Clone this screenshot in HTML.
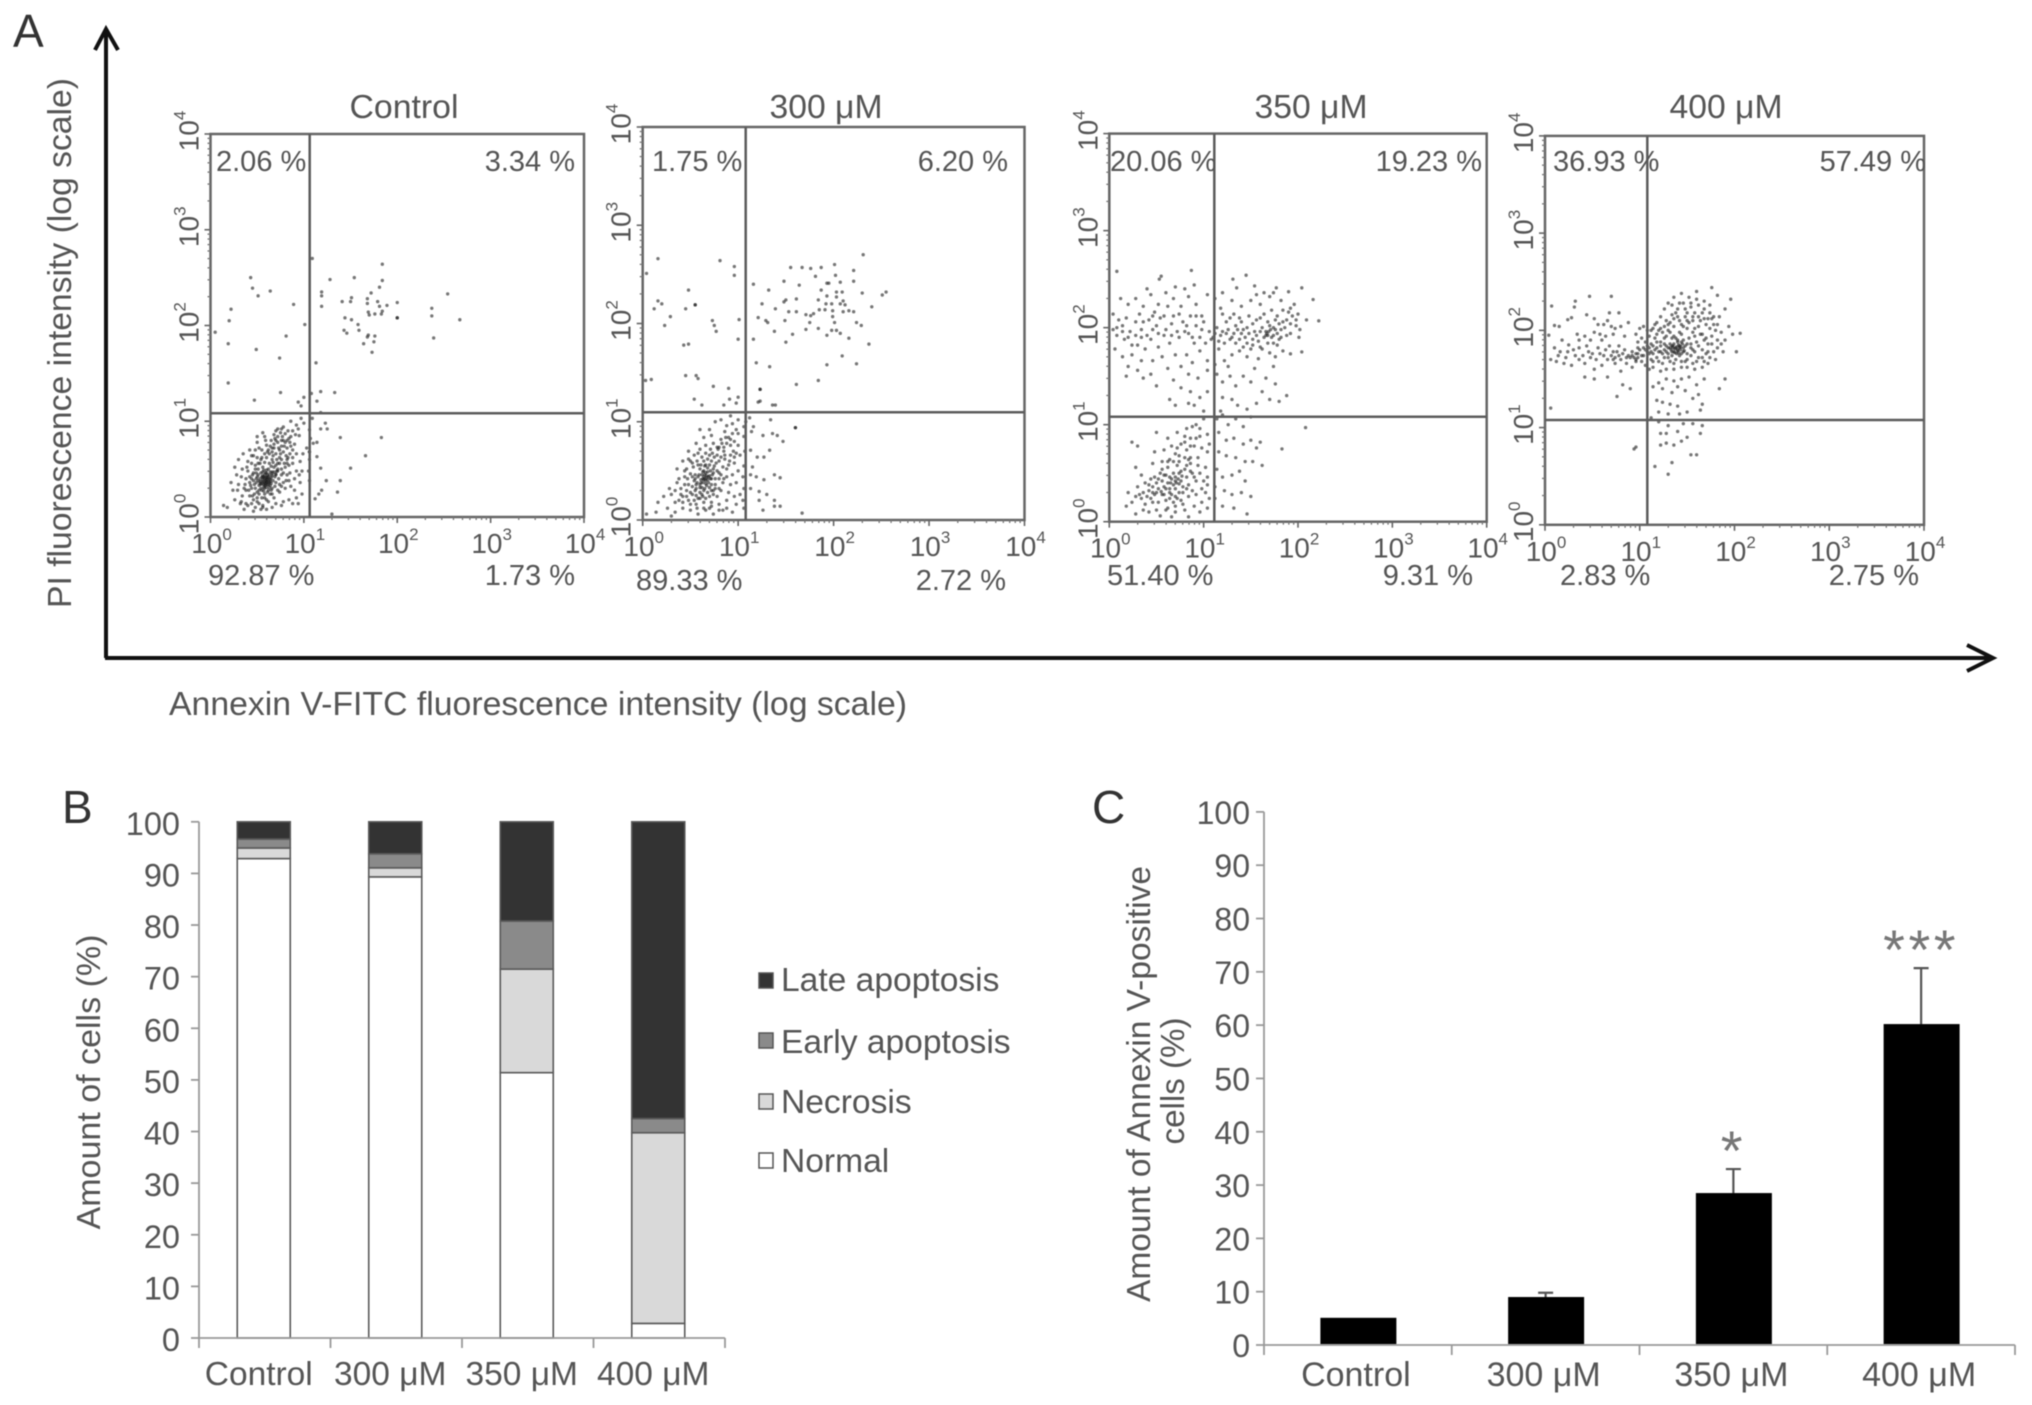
<!DOCTYPE html>
<html lang="en">
<head>
<meta charset="utf-8">
<title>Annexin V / PI flow cytometry apoptosis figure</title>
<style>
html,body{margin:0;padding:0;background:#fff;}
svg{display:block;width:2032px;height:1405px;filter:blur(0.55px);}
text{font-family:"Liberation Sans",sans-serif;fill:#555;}
.t29{font-size:29px;}
.t33{font-size:33px;}
.t34{font-size:33.6px;}
.letter{font-size:46px;fill:#333;}
</style>
</head>
<body>
<svg id="figure" xmlns="http://www.w3.org/2000/svg" width="2032" height="1405" viewBox="0 0 2032 1405">
  <rect x="0" y="0" width="2032" height="1405" fill="#fff"/>

  <g id="panelA">
    <text class="letter" x="13" y="47">A</text>
    <g fill="none" stroke="#111" stroke-width="4">
      <path d="M106 658 V30 M95 50 L106 29 L118 50"/>
      <path d="M105 658 H1992 M1967 645 L1993 658 L1967 671"/>
    </g>
    <text class="t33" transform="translate(71 343) rotate(-90)" text-anchor="middle" textLength="530" lengthAdjust="spacingAndGlyphs">PI fluorescence intensity (log scale)</text>
    <text class="t33" x="169" y="715" textLength="738" lengthAdjust="spacingAndGlyphs">Annexin V-FITC fluorescence intensity (log scale)</text>

    <text class="t33" x="404" y="118" text-anchor="middle" textLength="109" lengthAdjust="spacingAndGlyphs">Control</text>
    <text class="t33" x="826" y="118" text-anchor="middle" textLength="113" lengthAdjust="spacingAndGlyphs">300 μM</text>
    <text class="t33" x="1311" y="118" text-anchor="middle" textLength="113" lengthAdjust="spacingAndGlyphs">350 μM</text>
    <text class="t33" x="1726" y="118" text-anchor="middle" textLength="113" lengthAdjust="spacingAndGlyphs">400 μM</text>

    <g id="flowPlots"></g>

    <g>
      <text class="t29" x="216" y="171">2.06 %</text>
      <text class="t29" x="575" y="171" text-anchor="end">3.34 %</text>
      <text class="t29" x="208" y="585">92.87 %</text>
      <text class="t29" x="575" y="585" text-anchor="end">1.73 %</text>

      <text class="t29" x="652" y="171">1.75 %</text>
      <text class="t29" x="1008" y="171" text-anchor="end">6.20 %</text>
      <text class="t29" x="636" y="590">89.33 %</text>
      <text class="t29" x="1006" y="590" text-anchor="end">2.72 %</text>

      <text class="t29" x="1110" y="171">20.06 %</text>
      <text class="t29" x="1482" y="171" text-anchor="end">19.23 %</text>
      <text class="t29" x="1107" y="585">51.40 %</text>
      <text class="t29" x="1473" y="585" text-anchor="end">9.31 %</text>

      <text class="t29" x="1553" y="171">36.93 %</text>
      <text class="t29" x="1926" y="171" text-anchor="end">57.49 %</text>
      <text class="t29" x="1560" y="585">2.83 %</text>
      <text class="t29" x="1919" y="585" text-anchor="end">2.75 %</text>
    </g>
  </g>

  <g id="panelB">
    <text class="letter" x="62" y="823">B</text>
    <text class="t33" transform="translate(100 1082) rotate(-90)" text-anchor="middle" textLength="295" lengthAdjust="spacingAndGlyphs">Amount of cells (%)</text>
    <g id="stackedChart"></g>
    <g>
      <g>
        <rect x="759" y="973" width="14" height="15" fill="#333" stroke="#555" stroke-width="1.5"/>
        <text class="t34" x="781" y="991">Late apoptosis</text>
      </g>
      <g>
        <rect x="759" y="1033" width="14" height="15" fill="#8a8a8a" stroke="#555" stroke-width="1.5"/>
        <text class="t34" x="781" y="1053">Early apoptosis</text>
      </g>
      <g>
        <rect x="759" y="1094" width="14" height="15" fill="#d9d9d9" stroke="#555" stroke-width="1.5"/>
        <text class="t34" x="781" y="1113">Necrosis</text>
      </g>
      <g>
        <rect x="759" y="1153" width="14" height="15" fill="#fff" stroke="#555" stroke-width="1.5"/>
        <text class="t34" x="781" y="1172">Normal</text>
      </g>
    </g>
  </g>

  <g id="panelC">
    <text class="letter" x="1092" y="823">C</text>
    <text class="t33" transform="translate(1150 1084) rotate(-90)" text-anchor="middle" textLength="436" lengthAdjust="spacingAndGlyphs">Amount of Annexin V-positive</text>
    <text class="t33" transform="translate(1184 1081) rotate(-90)" text-anchor="middle" textLength="127" lengthAdjust="spacingAndGlyphs">cells (%)</text>
    <g id="barChart"></g>
  </g>
</svg>

<script>
/* ---------- Panel A: log10 fluorescence readings, listed as x,y,x,y ... ---------- */
const logTickExponents = ['0','1','2','3','4'];

const scatterControl = [
.43,2.50,.45,2.39,.51,2.31,.64,2.36,.89,2.22,.22,2.17,.20,2.05,.05,1.93,.19,1.81,.49,1.75,.81,1.89,.74,1.66,1.01,2.01,.19,1.40,.47,1.22,.75,1.30,.94,1.20,.97,1.16,1.00,1.25,1.13,1.61,1.18,1.31,1.08,1.29,1.14,1.21,1.33,1.30,
1.09,2.70,1.28,2.48,1.54,2.50,1.19,2.35,1.19,2.31,1.19,2.20,1.84,2.64,1.84,2.47,1.81,2.40,1.72,2.34,1.41,2.25,1.50,2.25,1.51,2.29,1.68,2.28,1.68,2.23,1.79,2.25,1.81,2.20,1.89,2.21,2.00,2.24,1.69,2.14,1.70,2.11,1.76,2.12,1.83,2.12,1.84,2.15,2.00,2.08,2.00,2.08,1.44,2.08,1.51,2.06,1.58,2.01,1.59,1.95,1.43,1.95,1.46,1.92,1.69,1.90,1.68,1.88,1.76,1.89,1.75,1.83,1.64,1.81,1.73,1.72,2.37,2.18,2.37,2.10,2.54,2.33,2.67,2.06,2.39,1.87,
1.18,.92,1.25,.92,1.39,.83,1.83,.83,1.66,.64,1.50,.51,1.18,.51,1.39,.38,1.24,.38,1.36,.26,1.19,.28,1.16,.24,1.12,.19,1.30,.03,1.14,.63,1.10,.77,1.14,.78,1.06,.91,1.06,.68,1.06,.68,1.23,.98,1.18,1.09,1.09,1.03,1.07,.82,1.06,.60,1.05,.48,1.06,.38,
.59,.38,.60,.36,.58,.40,.62,.37,.57,.34,.61,.41,.55,.37,.63,.44,.60,.31,.56,.43,.65,.41,.53,.40,.58,.30,.66,.47,.52,.33,.62,.50,.54,.46,.68,.52,.50,.42,.49,.36,.64,.33,.59,.46,.67,.38,.55,.28,.61,.26,.48,.30,.70,.45,.46,.38,.72,.56,.56,.52,.63,.56,.51,.50,.74,.62,.66,.60,.58,.57,.45,.44,.69,.32,.52,.24,.64,.24,.47,.24,.73,.40,.76,.50,.43,.33,.60,.62,.70,.66,.78,.68,.59,.35,.60,.39,.57,.37,.61,.34,.56,.39,.63,.40,.60,.42,.58,.44,.54,.34,.64,.37,
.80,.87,.75,.88,.84,.82,.78,.94,.70,.90,.88,.90,.90,.76,.82,.72,.72,.78,.65,.80,.92,.96,.95,.85,.60,.75,.86,1.00,.97,1.03,.55,.70,.50,.62,.44,.56,.40,.48,.38,.40,.36,.30,.34,.22,.30,.34,.28,.44,.26,.52,.30,.60,.35,.66,.42,.70,.50,.78,.58,.84,.68,.86,.76,.80,.86,.74,.92,.66,.96,.58,.98,.48,.88,.62,.84,.54,.82,.44,.90,.40,.96,.36,.86,.32,.80,.30,.74,.26,.68,.20,.62,.16,.56,.12,.50,.16,.44,.14,.38,.14,.32,.14,.26,.18,.24,.28,.22,.36,.14,.12,.18,.10,.36,.08,.46,.06,.56,.10,.66,.10,.76,.12,.84,.18,.92,.20,.98,.24,.90,.28,.78,.46,.82,.60,.76,.74,.70,.80,.62,.70,.72,.92,.56,.88,.50,.84,.70,.44,.74,.34,.40,.58,.34,.50,.44,.64,.48,.70,.54,.60,.48,.54,.72,.48,.66,.30,.78,.36,.84,.38,.58,.20,.46,.18,.52,.14,.42,.22,.66,.68,.76,.60,.80,.52,.68,.72,1.00,.98,.94,.92,1.03,.72,.99,.66,
.60,.37,.59,.41,.62,.34,.57,.42,.64,.39,.55,.35,.61,.44,.58,.33,.66,.43,.53,.37,.63,.31,.56,.47,.68,.47,.51,.38,.60,.49,.65,.53,.54,.30,.49,.46,.70,.54,.47,.34,.62,.28,.57,.27,.72,.50,.74,.56,.44,.40,.67,.57,.75,.66,.79,.74,.82,.80,.77,.84,.73,.72,.68,.76,.63,.66,.58,.66,.53,.56,.48,.50,.42,.42,.37,.34,.41,.28,.45,.22,.50,.20,.55,.20,.60,.18,.66,.24,.72,.28,.76,.32,.81,.38,.85,.46,.88,.56,.85,.66,.81,.64,.92,.48,.95,.44,.86,.84,.91,.86,.83,.90,.76,.92,.69,.82,.64,.74,.59,.80,.52,.72,.46,.64,.39,.52,.33,.42,.29,.28,.33,.16,.40,.12,.48,.10,.54,.08,.60,.08,.70,.14,.78,.16,.88,.14,.94,.14,
.58,.36,.61,.39,.59,.33,.56,.41,.63,.36,.55,.42,.62,.42,.60,.46,.57,.31,.65,.35,.53,.35,.66,.45,.51,.44,.64,.47,.57,.49,.69,.42,.71,.48,.49,.40,.52,.28,.58,.24,.65,.28,.70,.36,.76,.44,.79,.56,.83,.62,.78,.80,.72,.84,.66,.72,.61,.68,.55,.62,.51,.56,.46,.46,.42,.36,.38,.28,.44,.30,.50,.26,.74,.70,.80,.78,.85,.78,.88,.70,.82,.56,.71,.60,.67,.64
];

const scatter300 = [
.16,2.66,.81,2.64,.96,2.58,.96,2.49,.04,2.51,.48,2.34,.16,2.23,.20,2.20,.12,2.15,.45,2.15,.55,2.19,.55,2.19,.29,2.07,.23,1.98,.73,2.03,.75,1.98,.77,1.92,1.01,2.04,.43,1.78,.48,1.79,1.00,1.84,1.16,1.84,.45,1.47,.56,1.47,.58,1.44,.09,1.43,.03,1.42,.74,1.36,.90,1.34,.54,1.23,.62,1.17,.85,1.17,.91,1.23,.98,1.19,1.00,1.25,1.23,1.33,1.23,1.33,1.21,1.20,1.23,1.21,1.36,1.17,1.39,1.17,
1.61,1.38,1.84,1.42,1.93,1.58,2.24,1.59,2.09,1.67,2.37,1.79,1.19,1.60,1.33,1.56,1.50,1.81,1.57,1.89,1.38,1.92,1.29,2.03,1.31,2.01,1.21,2.06,1.49,2.03,1.39,2.15,1.25,2.20,1.16,2.40,1.32,2.34,1.48,2.43,1.55,2.57,1.67,2.57,1.76,2.56,1.87,2.57,2.01,2.60,2.31,2.70,2.21,2.54,2.02,2.49,1.81,2.48,1.64,2.39,1.93,2.41,1.95,2.41,2.07,2.42,2.21,2.43,1.87,2.34,2.03,2.32,2.09,2.32,2.30,2.31,2.51,2.29,2.55,2.32,1.48,2.22,1.50,2.24,1.61,2.25,1.84,2.24,1.93,2.28,2.03,2.27,1.92,2.20,1.98,2.20,2.07,2.20,2.10,2.23,2.12,2.19,2.40,2.17,1.53,2.12,1.61,2.12,1.71,2.09,1.76,2.08,1.79,2.10,1.85,2.14,1.91,2.14,1.99,2.13,2.10,2.12,2.16,2.13,2.21,2.12,1.99,2.07,2.01,2.01,1.75,2.01,2.24,2.01,2.29,1.98,1.71,1.94,1.84,1.95,1.98,1.93,2.03,1.93,1.93,1.88,2.07,1.90,2.16,1.85,
1.34,1.02,1.60,.94,1.60,.94,1.16,.95,1.26,.86,1.36,.88,1.41,.86,1.47,.80,1.13,.71,1.33,.71,1.27,.64,1.20,.64,1.15,.54,1.13,.46,1.19,.44,1.27,.41,1.38,.46,1.44,.43,1.13,.32,1.22,.29,1.30,.26,1.22,.20,1.38,.20,1.38,.14,1.44,.14,1.26,.10,1.67,.07,1.06,.95,1.06,.85,1.07,.70,1.06,.55,1.05,.44,1.06,.32,1.05,.20,1.06,.12,1.08,1.00,1.12,1.04,1.14,.90,
.65,.42,.66,.40,.64,.44,.67,.45,.63,.38,.68,.41,.62,.46,.66,.48,.69,.38,.61,.41,.70,.45,.60,.36,.64,.50,.71,.50,.58,.44,.67,.35,.62,.33,.72,.42,.57,.38,.68,.53,.60,.52,.74,.48,.56,.32,.64,.30,.70,.33,.55,.46,.66,.56,.75,.55,.54,.40,.60,.28,.68,.28,.52,.34,.72,.60,.58,.56,.78,.50,.76,.36,.50,.28,.56,.25,.63,.24,.70,.24,.48,.36,.64,.60,.80,.60,.78,.66,.70,.66,
.94,.88,.90,.84,.86,.90,.98,.92,.82,.82,.92,.76,.96,.80,.85,.74,.78,.74,.74,.78,.88,.96,.94,.98,1.00,.88,1.00,.76,1.02,.66,.98,.68,.92,.66,.86,.62,.84,.54,.90,.56,.96,.58,1.00,.50,.94,.46,.88,.44,.84,.38,.92,.36,.98,.38,.90,.28,.82,.30,.96,.24,.88,.20,.78,.24,.72,.18,.64,.18,.56,.16,.48,.20,.42,.24,.40,.32,.44,.44,.38,.42,.46,.52,.50,.60,.54,.66,.60,.72,.66,.76,.72,.86,.64,.84,.56,.78,.48,.70,.42,.60,.36,.52,.34,.18,.30,.26,.28,.32,.26,.12,.34,.08,.42,.12,.50,.10,.58,.06,.66,.10,.74,.06,.84,.10,.94,.08,.22,.24,.16,.18,.14,.08,.04,.06,.30,.04,.80,.16,.70,.12,.60,.22,.76,.32,.98,.16,1.02,.26,.52,.44,.80,.42,.74,.30,.54,.20,.70,.92,.60,.92,.82,1.02,.76,1.00,.92,1.06,1.00,1.02,
.64,.41,.67,.43,.65,.46,.63,.42,.69,.44,.61,.38,.66,.37,.71,.42,.59,.46,.68,.49,.63,.49,.73,.46,.60,.33,.65,.32,.72,.36,.56,.36,.55,.42,.74,.52,.70,.56,.65,.55,.61,.56,.77,.58,.82,.64,.85,.70,.88,.78,.83,.78,.79,.72,.75,.64,.71,.72,.66,.68,.62,.64,.57,.60,.53,.54,.50,.47,.47,.42,.44,.36,.46,.30,.52,.26,.58,.22,.66,.22,.74,.26,.80,.32,.85,.42,.88,.52,.91,.60,.95,.70,.92,.82,.87,.84,.96,.64,.80,.48,.76,.42,.46,.24,.38,.20,.42,.18,.50,.16,.57,.12,.64,.12,.72,.14,.80,.10,.88,.12,.40,.26,.34,.30,.36,.38,.58,.68,.52,.58,.48,.62,.44,.50,.68,.62,.73,.68,.80,.74,.86,.66,.82,.46,.72,.30,.62,.26,.55,.30
];

const scatter350 = [
.08,2.58,.55,2.53,.53,2.50,.87,2.59,1.31,2.50,1.45,2.54,1.35,2.41,1.54,2.43,1.77,2.41,1.90,2.37,2.04,2.41,2.16,2.29,2.09,2.08,2.22,2.07,2.01,1.90,2.04,1.75,1.92,1.73,
.04,2.14,.10,2.08,.14,2.02,.08,1.92,.16,1.88,.06,1.78,.14,1.70,.20,1.60,.18,1.50,.30,1.56,.36,1.48,.44,1.52,.50,1.40,.24,1.72,.30,1.82,.38,1.78,.44,1.88,.52,1.80,.58,1.92,.64,1.84,.70,1.72,.76,1.60,.84,1.52,.22,1.96,.28,2.06,.34,1.98,.42,2.08,.50,2.02,.58,2.12,.66,2.04,.72,1.96,.78,2.06,.84,1.94,.90,1.84,.96,1.76,.20,2.24,.28,2.30,.36,2.22,.44,2.34,.52,2.24,.60,2.36,.68,2.30,.76,2.22,.84,2.32,.92,2.24,.98,2.12,.98,1.98,1.02,1.84,1.04,2.34,.80,2.40,.40,2.40,.12,2.30,.70,2.42,.90,2.44,.32,2.14,.48,2.16,.62,2.22,.74,2.14,.86,2.12,.92,2.02,.56,1.70,.46,1.66,.34,1.66,.62,1.58,.68,1.46,.82,1.72,.88,1.64,.94,1.48,.76,1.38,.86,1.34,.64,1.26,.70,1.20,.84,1.22,.90,1.20,.96,1.28,1.00,1.14,1.04,1.34,1.04,1.56,1.04,1.66,
1.10,1.90,1.14,2.00,1.18,1.92,1.22,1.84,1.16,1.78,1.26,1.98,1.30,1.90,1.34,2.02,1.28,2.10,1.20,2.14,1.38,1.88,1.42,1.98,1.46,1.84,1.40,2.06,1.48,2.12,1.54,1.96,1.50,1.78,1.58,1.86,1.62,2.00,1.56,2.08,1.66,1.92,1.70,2.02,1.72,1.90,1.76,1.98,1.67,1.94,1.69,1.96,1.74,1.92,1.80,2.04,1.82,1.90,1.86,2.00,1.78,1.82,1.88,2.08,1.94,2.12,1.92,1.94,1.98,2.02,1.64,2.14,1.72,2.18,1.78,2.12,1.84,2.18,1.92,2.20,2.00,2.14,1.62,1.78,1.70,1.74,1.76,1.70,1.84,1.76,1.58,1.68,1.46,1.70,1.38,1.76,1.30,1.72,1.22,1.66,1.12,1.62,1.30,2.28,1.40,2.22,1.50,2.28,1.60,2.24,1.70,2.32,1.56,2.34,1.64,2.36,1.74,2.36,1.82,2.28,1.12,2.30,1.20,2.36,
1.14,1.52,1.20,1.44,1.28,1.50,1.26,1.60,1.34,1.40,1.42,1.50,1.50,1.44,1.54,1.58,1.62,1.34,1.66,1.48,1.74,1.60,1.76,1.42,1.20,1.28,1.30,1.26,1.36,1.20,1.46,1.16,1.56,1.22,1.70,1.26,1.80,1.24,1.88,1.30,1.18,1.14,
1.14,1.06,1.20,1.10,1.26,1.00,1.34,1.06,1.42,.98,1.50,1.08,1.16,.92,1.24,.84,1.32,.86,1.42,.80,1.50,.84,1.56,.76,1.60,.82,1.16,.72,1.24,.68,1.34,.66,1.44,.62,1.52,.62,1.62,.58,1.14,.54,1.20,.46,1.30,.48,1.38,.52,1.44,.42,1.12,.36,1.22,.32,1.30,.28,1.40,.30,1.50,.26,1.20,.16,1.32,.14,1.46,.08,1.12,.24,2.08,.97,1.83,.75,
.72,.92,.82,.96,.92,1.00,1.00,1.06,1.04,.90,.96,.88,.86,.86,.76,.80,.66,.78,.62,.86,.50,.92,.48,.72,.24,.82,.30,.78,.58,.74,.70,.70,.82,.74,.90,.78,.98,.76,1.04,.72,.94,.66,.84,.64,.74,.62,.64,.64,.56,.62,.46,.60,.28,.56,.34,.48,
.71,.40,.73,.44,.68,.38,.76,.42,.66,.44,.70,.34,.78,.36,.62,.40,.74,.50,.64,.34,.82,.46,.58,.36,.68,.50,.80,.54,.56,.42,.60,.48,.74,.30,.84,.38,.52,.34,.66,.28,.58,.28,.50,.40,.88,.50,.92,.42,.94,.58,.86,.60,.62,.56,.54,.50,.46,.36,.48,.28,.42,.32,.40,.26,.34,.24,.30,.36,.28,.26,.38,.18,.46,.20,.52,.20,.60,.22,.68,.20,.76,.22,.84,.26,.92,.28,.98,.34,1.04,.46,1.02,.30,.98,.20,.90,.16,.80,.12,.70,.10,.60,.12,.50,.12,.42,.10,.36,.12,.24,.20,.20,.30,.18,.16,.28,.08,.54,.06,.66,.05,.84,.05,.96,.10,1.04,.14,.44,.44,.38,.40,.56,.54,.72,.58,.78,.30,.88,.32,.70,.26,.48,.46,.64,.24,
.74,.39,.70,.42,.65,.40,.77,.47,.60,.34,.55,.31,.50,.30,.46,.30,.42,.38,.52,.44,.58,.48,.64,.46,.70,.46,.76,.52,.82,.58,.86,.66,.80,.66,.74,.68,.68,.62,.62,.62,.72,.76,.80,.82,.86,.78,.92,.86,.96,.96,.88,.98,.80,.88,.86,.52,.90,.46,.96,.50,.82,.34,.72,.24,.64,.30,.56,.28,.44,.24,.36,.30,.32,.28,1.06,.80,1.02,.56,1.04,.38,1.06,.24,1.00,.42,.62,.14,.70,.16,.78,.18,
1.66,1.96,1.68,1.92,1.71,1.98,1.64,1.90,1.60,1.96,1.74,2.00,1.78,1.94,1.82,1.98,1.56,1.92,1.52,1.88,1.48,1.94,1.44,1.90,1.40,1.94,1.36,1.98,1.32,1.94,1.28,1.88,1.24,1.94,1.20,1.96,1.16,1.86,1.12,1.94,1.08,1.88,1.34,1.84,1.42,1.80,1.52,1.82,1.60,1.80,1.68,1.84,1.74,1.84,1.80,1.88,1.88,1.92,1.92,2.04,1.84,2.06,1.76,2.08,1.68,2.06,1.60,2.10,1.52,2.04,1.46,2.00,1.38,2.10,1.32,2.14,1.24,2.06,1.18,2.20,1.90,2.16,1.96,2.24,1.98,2.08,2.02,1.98,1.06,1.96,.96,1.90,.88,1.90,.80,1.96,.74,1.90,.66,1.92,.60,1.98,.52,1.94,.46,1.98,.40,1.92,.34,1.90,.28,1.92,.20,1.90,.14,1.96,.08,2.00,.04,1.98,.24,1.82,.18,2.10,.36,2.06,.46,2.12,.54,2.10,.68,2.12,.82,2.02,.92,2.12,1.00,2.06
];

const scatter400 = [
.07,2.25,.32,2.30,.31,2.24,.47,2.35,.70,2.35,.10,2.05,.15,2.04,.24,2.11,.28,2.13,.44,2.16,.68,2.18,.78,2.18,.52,2.12,.66,2.10,.80,2.04,.04,1.95,.18,1.90,.25,1.85,.34,1.96,.42,1.94,.52,1.98,.56,2.06,.60,1.90,.72,1.96,.74,2.02,.84,1.94,.88,2.08,.10,1.82,.16,1.78,.22,1.72,.30,1.80,.36,1.82,.44,1.84,.50,1.76,.56,1.82,.62,1.74,.68,1.84,.72,1.78,.78,1.84,.84,1.80,.88,1.74,.06,1.70,.12,1.68,.20,1.66,.28,1.64,.36,1.70,.42,1.66,.48,1.72,.52,1.60,.60,1.64,.66,1.70,.74,1.66,.80,1.58,.86,1.66,.92,1.62,.42,1.52,.52,1.50,.66,1.52,.82,1.44,.90,1.40,.76,1.32,.06,1.20,.96,1.68,.92,1.74,.96,1.76,.94,1.72,.98,1.72,.90,1.72,.80,1.70,.78,1.74,.74,1.72,.72,1.70,
1.00,2.02,1.04,2.04,1.08,2.00,1.02,1.92,.98,1.88,.96,1.96,1.06,1.88,1.10,1.94,1.14,2.02,1.18,2.08,1.22,2.14,1.26,2.22,1.30,2.28,1.36,2.34,1.44,2.38,1.52,2.34,1.60,2.40,1.68,2.30,1.74,2.26,1.62,2.26,1.54,2.24,1.46,2.28,1.40,2.22,1.34,2.16,1.28,2.10,1.22,2.02,1.18,1.96,1.12,1.86,1.16,1.80,1.08,1.78,1.04,1.74,1.02,1.68,1.06,1.64,1.12,1.70,1.18,1.72,1.24,1.66,1.30,1.72,1.36,1.66,1.42,1.74,1.48,1.68,1.54,1.74,1.60,1.68,1.66,1.72,1.72,1.78,1.76,1.86,1.70,1.92,1.74,2.02,1.78,2.06,1.68,2.12,1.62,2.14,1.56,2.10,1.48,2.14,1.42,2.10,1.36,2.04,1.30,2.00,1.26,1.92,1.22,1.84,1.28,1.78,1.34,1.84,1.38,1.92,1.44,1.96,1.50,2.02,1.56,1.98,1.62,2.04,1.66,1.96,1.60,1.88,1.54,1.86,1.48,1.84,1.42,1.82,1.36,1.78,1.30,1.82,1.39,1.83,1.41,1.85,1.37,1.81,1.43,1.80,1.35,1.84,1.40,1.79,1.45,1.86,1.33,1.80,1.47,1.79,1.39,1.76,1.34,1.74,1.44,1.76,1.50,1.76,1.56,1.80,1.24,1.76,1.20,1.78,1.14,1.76,1.10,1.82,1.18,1.88,1.26,1.86,1.52,1.92,1.58,1.94,1.46,1.90,1.40,1.88,1.34,1.92,1.28,1.94,1.32,2.08,1.40,2.14,1.50,2.18,1.58,2.18,1.66,2.18,1.70,2.06,1.76,1.94,1.82,1.90,1.86,1.98,1.84,2.14,1.90,2.22,1.96,2.32,1.82,2.36,1.76,2.44,
1.98,1.96,2.06,1.97,2.02,1.78,1.88,1.78,1.80,1.70,1.72,1.66,1.66,1.62,1.58,1.60,1.50,1.62,1.44,1.62,1.36,1.60,1.28,1.60,1.22,1.58,1.14,1.62,1.10,1.60,1.90,1.50,1.84,1.40,1.62,1.34,1.60,1.44,1.68,1.50,1.52,1.52,1.44,1.50,1.36,1.48,1.28,1.50,1.20,1.46,1.14,1.42,1.24,1.40,1.34,1.36,1.40,1.42,1.48,1.38,1.56,1.30,1.64,1.18,1.66,1.24,1.40,1.22,1.32,1.24,1.24,1.26,1.18,1.28,1.20,1.16,1.30,1.14,1.42,1.14,1.50,1.16,1.12,1.10,1.20,1.06,1.30,1.02,1.46,1.04,1.56,1.04,1.66,1.02,
1.22,.94,1.28,.94,1.40,.96,1.44,.86,1.50,.90,1.64,.94,1.28,.84,1.36,.82,1.22,.82,.96,.80,.94,.78,1.54,.72,1.60,.72,1.34,.64,1.16,.60,1.30,.52,
1.38,1.82,1.42,1.84,1.36,1.86,1.44,1.88,1.32,1.86,1.40,1.90,1.46,1.82,1.34,1.78,1.30,1.76,1.26,1.80,1.22,1.78,1.18,1.82,1.14,1.84,1.10,1.76,1.06,1.80,1.02,1.74,.98,1.76,1.50,1.86,1.54,1.82,1.58,1.78,1.62,1.84,1.66,1.80,1.70,1.76,1.72,1.86,1.68,1.90,1.64,1.96,1.58,2.02,1.52,2.08,1.46,2.04,1.42,1.98,1.36,1.94,1.32,1.98,1.26,2.04,1.20,2.00,1.16,2.06,1.12,2.00,1.24,1.98,1.30,2.06,1.36,2.12,1.44,2.06,1.50,2.10,1.56,2.14,1.64,2.10,1.72,2.12,1.78,2.14,1.74,2.18,1.68,2.22,1.60,2.32,1.54,2.28,1.48,2.22,1.42,2.28,1.38,2.18,1.34,2.26,1.44,1.68,1.38,1.70,1.32,1.68,1.26,1.72,1.20,1.68,1.14,1.68,1.50,1.70,1.56,1.66,1.62,1.72,1.68,1.68,1.74,1.72,1.78,1.78,1.82,1.82,1.86,1.86,1.90,1.90,1.94,2.04,1.80,2.00,1.82,2.06,1.76,2.12,1.40,1.80,1.43,1.83,1.37,1.77,1.41,1.77,1.35,1.82,1.46,1.78,1.32,1.82,1.28,1.84,1.22,1.88,1.16,1.92,1.12,1.78,1.08,1.84,1.04,1.82,1.00,1.80,.98,1.82,.96,1.70,.92,1.78,.86,1.72,.82,1.76,.76,1.78,.70,1.74,.64,1.80,.58,1.76,.54,1.70,.46,1.78,.40,1.74,.32,1.74,.24,1.78,.14,1.74,.36,1.90,.48,1.90,.58,1.96,.64,1.94,.70,2.04,.62,2.06
];

/* ---------- Panel B: percent of cells per treatment ---------- */
const stackedCategories = ['Control','300 μM','350 μM','400 μM'];
const normalPercent = [92.87,89.33,51.40,2.83];
const necrosisPercent = [2.06,1.75,20.06,36.93];
const earlyPercent = [1.73,2.72,9.31,2.75];
const latePercent = [3.34,6.20,19.23,57.49];
const stackedTicks = [0,10,20,30,40,50,60,70,80,90,100];

/* ---------- Panel C: Annexin V-positive cells ---------- */
const barCategories = ['Control','300 μM','350 μM','400 μM'];
const barValues = [5.1,9.0,28.5,60.2];
const barErrorTops = [5.1,9.8,33.0,70.7];
const barStars = ['','','*','***'];
const barTicks = [0,10,20,30,40,50,60,70,80,90,100];

const NS = 'http://www.w3.org/2000/svg';
function make(tag, attrs, parent){
  const el = document.createElementNS(NS, tag);
  for (const k in attrs) el.setAttribute(k, attrs[k]);
  parent.appendChild(el);
  return el;
}

/* ---------- Flow plots ---------- */
const flowRoot = document.getElementById('flowPlots');
const flowPlots = [
  {id:'control', points:scatterControl, left:210.5, right:584, top:134, bottom:517, gateX:309.7, gateY:413.3},
  {id:'300um', points:scatter300, left:642.7, right:1024.5, top:127, bottom:520, gateX:745.7, gateY:412.3},
  {id:'350um', points:scatter350, left:1109.3, right:1486.7, top:133.6, bottom:521.7, gateX:1214.3, gateY:416.7},
  {id:'400um', points:scatter400, left:1545, right:1924, top:135.9, bottom:524.8, gateX:1647.3, gateY:420}
];

flowPlots.forEach(function(p){
  const xScale = function(v){ return p.left + (p.right - p.left) * v / 4; };
  const yScale = function(v){ return p.bottom - (p.bottom - p.top) * v / 4; };

  const g = make('g', {}, flowRoot);
  
  

  const dots = make('g', {fill:'#1c1c1c', 'fill-opacity':'0.6'}, g);
  
  
  for (let i = 0; i < p.points.length; i += 2){
    const c = make('circle', {cx:xScale(p.points[i]), cy:yScale(p.points[i+1]), r:1.7}, dots);
    
    
  }

  const box = make('rect', {x:p.left, y:p.top, width:p.right-p.left, height:p.bottom-p.top, fill:'none', stroke:'#666', 'stroke-width':2.5}, g);
  
  

  const vGate = make('line', {x1:p.gateX, x2:p.gateX, y1:p.top, y2:p.bottom, stroke:'#5c5c5c', 'stroke-width':2.5}, g);
  
  

  const hGate = make('line', {x1:p.left, x2:p.right, y1:p.gateY, y2:p.gateY, stroke:'#5c5c5c', 'stroke-width':2.5}, g);
  
  

  for (let d = 0; d < 4; d++){
    for (let m = 2; m < 10; m++){
      const off = d + Math.log10(m);
      const tx = make('line', {x1:xScale(off), x2:xScale(off), y1:p.bottom, y2:p.bottom+3, stroke:'#777', 'stroke-width':1.3}, g);
      
      
      const ty = make('line', {x1:p.left-3, x2:p.left, y1:yScale(off), y2:yScale(off), stroke:'#777', 'stroke-width':1.3}, g);
      
      
    }
  }

  logTickExponents.forEach(function(exp, i){
    const mx = make('line', {x1:xScale(i), x2:xScale(i), y1:p.bottom, y2:p.bottom+6, stroke:'#666', 'stroke-width':1.6}, g);
    
    
    const my = make('line', {x1:p.left-6, x2:p.left, y1:yScale(i), y2:yScale(i), stroke:'#666', 'stroke-width':1.6}, g);
    
    

    const xl = make('text', {x:xScale(i)+1, y:p.bottom+36, 'text-anchor':'middle', 'font-size':28}, g);
    
    
    const xb = make('tspan', {}, xl);
    xb.textContent = '10';
    const xs = make('tspan', {dy:-13, 'font-size':17}, xl);
    xs.textContent = exp;

    const yy = yScale(i) - 3;
    const yl = make('text', {transform:'translate(' + (p.left-12) + ' ' + yy + ') rotate(-90)', 'text-anchor':'middle', 'font-size':28}, g);
    
    
    const yb = make('tspan', {}, yl);
    yb.textContent = '10';
    const ys = make('tspan', {dy:-13, 'font-size':17}, yl);
    ys.textContent = exp;
  });
});

/* ---------- Stacked bars ---------- */
const stackedRoot = document.getElementById('stackedChart');
const sLeft = 199, sRight = 725, sTop = 821.8, sBase = 1338, sBarWidth = 53;
const sY = function(v){ return sBase - (sBase - sTop) * v / 100; };
const sBand = function(i){ return sLeft + (sRight - sLeft) * (i + 0.5) / stackedCategories.length; };
const stackedLayers = [
  {name:'normal', values:normalPercent, fill:'#ffffff'},
  {name:'necrosis', values:necrosisPercent, fill:'#d9d9d9'},
  {name:'early-apoptosis', values:earlyPercent, fill:'#8a8a8a'},
  {name:'late-apoptosis', values:latePercent, fill:'#333333'}
];

stackedCategories.forEach(function(cat, i){
  let base = 0;
  stackedLayers.forEach(function(layer){
    const v = layer.values[i];
    const r = make('rect', {x:sBand(i)-sBarWidth/2-1, y:sY(base+v), width:sBarWidth, height:sY(base)-sY(base+v), fill:layer.fill, stroke:'#5a5a5a', 'stroke-width':1.6}, stackedRoot);
    
    
    base += v;
  });
  const l = make('text', {x:sBand(i)-6, y:1385, 'text-anchor':'middle', 'font-size':33.5}, stackedRoot);
  
  
  l.textContent = cat;
});

const sAxisLine = make('path', {d:'M' + sLeft + ' ' + sTop + ' V' + sBase + ' H' + sRight, fill:'none', stroke:'#999', 'stroke-width':1.8}, stackedRoot);



stackedCategories.concat(['']).forEach(function(_, i){
  const x = sLeft + (sRight - sLeft) * i / stackedCategories.length;
  const t = make('line', {x1:x, x2:x, y1:sBase, y2:sBase+10, stroke:'#999', 'stroke-width':1.8}, stackedRoot);
  
  
});

stackedTicks.forEach(function(v){
  const t = make('line', {x1:sLeft-8, x2:sLeft, y1:sY(v), y2:sY(v), stroke:'#999', 'stroke-width':1.8}, stackedRoot);
  
  
  const l = make('text', {x:180, y:sY(v)+13, 'text-anchor':'end', 'font-size':32.5}, stackedRoot);
  
  
  l.textContent = v;
});

/* ---------- Annexin V-positive bars ---------- */
const barRoot = document.getElementById('barChart');
const bLeft = 1264, bRight = 2015, bTop = 811.9, bBase = 1345, bBarWidth = 76;
const bY = function(v){ return bBase - (bBase - bTop) * v / 100; };
const bBand = function(i){ return bLeft + (bRight - bLeft) * (i + 0.5) / barCategories.length; };

barCategories.forEach(function(cat, i){
  const x = bBand(i);
  if (barErrorTops[i] > barValues[i]){
    const e = make('path', {d:'M' + x + ' ' + bY(barValues[i]) + ' V' + bY(barErrorTops[i]) + ' M' + (x-7.5) + ' ' + bY(barErrorTops[i]) + ' H' + (x+7.5), fill:'none', stroke:'#555', 'stroke-width':2.2}, barRoot);
    
    
  }
  const r = make('rect', {x:x-bBarWidth/2+0.5, y:bY(barValues[i]), width:bBarWidth, height:bBase-bY(barValues[i])-1, fill:'#000'}, barRoot);
  
  
  const l = make('text', {x:x-2, y:1386, 'text-anchor':'middle', 'font-size':34}, barRoot);
  
  
  l.textContent = cat;
  if (barStars[i]){
    const s = make('text', {x:x, y:bY(barErrorTops[i])+1, 'text-anchor':'middle', 'font-size':56, 'letter-spacing':3.5, 'fill':'#777'}, barRoot);
    
    
    s.style.fill = '#777';
    s.textContent = barStars[i];
  }
});

const bAxisLine = make('path', {d:'M' + bLeft + ' ' + bTop + ' V' + bBase + ' H' + bRight, fill:'none', stroke:'#999', 'stroke-width':1.8}, barRoot);



barCategories.concat(['']).forEach(function(_, i){
  const x = bLeft + (bRight - bLeft) * i / barCategories.length;
  const t = make('line', {x1:x, x2:x, y1:bBase, y2:bBase+10, stroke:'#999', 'stroke-width':1.8}, barRoot);
  
  
});

barTicks.forEach(function(v){
  const t = make('line', {x1:bLeft-8, x2:bLeft, y1:bY(v), y2:bY(v), stroke:'#999', 'stroke-width':1.8}, barRoot);
  
  
  const l = make('text', {x:1250, y:bY(v)+12, 'text-anchor':'end', 'font-size':32}, barRoot);
  
  
  l.textContent = v;
});
</script>
</body>
</html>
